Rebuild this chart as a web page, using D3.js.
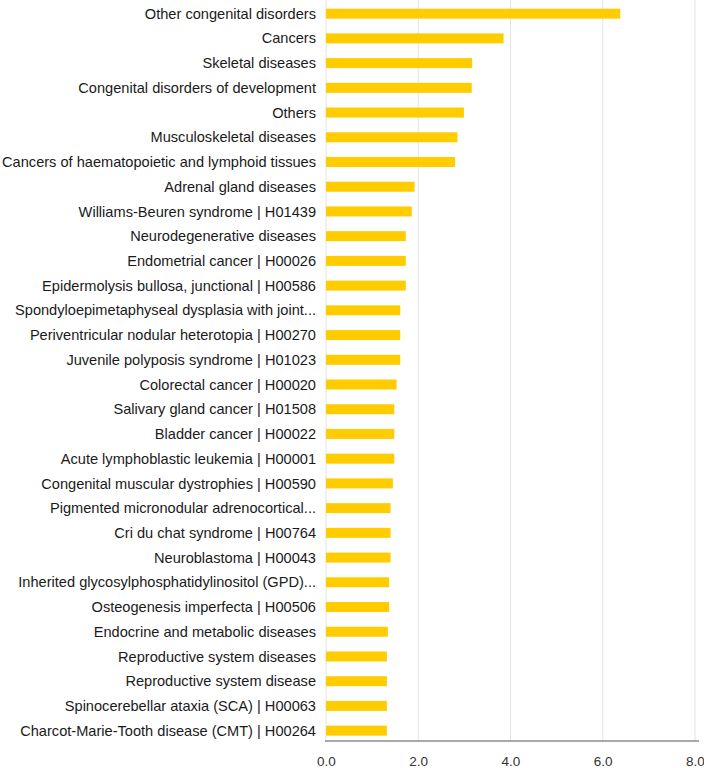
<!DOCTYPE html>
<html>
<head>
<meta charset="utf-8">
<script src="https://cdn.jsdelivr.net/npm/d3@7"></script>
<style>
  body { margin: 0; background: #fff; }
  svg { display: block; }
  text { font-family: "Liberation Sans", Arial, Helvetica, sans-serif; }
</style>
</head>
<body>
<svg id="chart" width="704" height="768"></svg>
<script>
const categories = [
  "Other congenital disorders",
  "Cancers",
  "Skeletal diseases",
  "Congenital disorders of development",
  "Others",
  "Musculoskeletal diseases",
  "Cancers of haematopoietic and lymphoid tissues",
  "Adrenal gland diseases",
  "Williams-Beuren syndrome | H01439",
  "Neurodegenerative diseases",
  "Endometrial cancer | H00026",
  "Epidermolysis bullosa, junctional | H00586",
  "Spondyloepimetaphyseal dysplasia with joint...",
  "Periventricular nodular heterotopia | H00270",
  "Juvenile polyposis syndrome | H01023",
  "Colorectal cancer | H00020",
  "Salivary gland cancer | H01508",
  "Bladder cancer | H00022",
  "Acute lymphoblastic leukemia | H00001",
  "Congenital muscular dystrophies | H00590",
  "Pigmented micronodular adrenocortical...",
  "Cri du chat syndrome | H00764",
  "Neuroblastoma | H00043",
  "Inherited glycosylphosphatidylinositol (GPD)...",
  "Osteogenesis imperfecta | H00506",
  "Endocrine and metabolic diseases",
  "Reproductive system diseases",
  "Reproductive system disease",
  "Spinocerebellar ataxia (SCA) | H00063",
  "Charcot-Marie-Tooth disease (CMT) | H00264"
];
const values = [
  6.38, 3.85, 3.17, 3.16, 2.99, 2.85, 2.80, 1.92, 1.86, 1.73,
  1.73, 1.73, 1.61, 1.61, 1.61, 1.53, 1.48, 1.48, 1.48, 1.45,
  1.40, 1.40, 1.40, 1.37, 1.37, 1.34, 1.32, 1.32, 1.32, 1.32
];
const xTicks = [0, 2, 4, 6, 8];

const svg = d3.select("#chart");
const x = d3.scaleLinear().domain([0, 8]).range([326, 695]);
const y = d3.scaleBand().domain(categories).range([1.3, 743]);
const axisY = 741;
const barH = 10;

// gridlines
svg.append("g").selectAll("line").data(xTicks).join("line")
  .attr("x1", d => x(d)).attr("x2", d => x(d))
  .attr("y1", 0).attr("y2", axisY)
  .attr("stroke", "#e3e3e3").attr("stroke-width", 1);

// bars
svg.append("g").selectAll("rect").data(values).join("rect")
  .attr("x", x(0))
  .attr("y", (d, i) => y(categories[i]) + y.bandwidth() / 2 - barH / 2)
  .attr("width", d => x(d) - x(0))
  .attr("height", barH)
  .attr("fill", "#FFCC00");

// category labels
svg.append("g").selectAll("text").data(categories).join("text")
  .attr("x", 316)
  .attr("y", d => y(d) + y.bandwidth() / 2)
  .attr("dy", "0.35em")
  .attr("text-anchor", "end")
  .attr("font-size", 14.6)
  .attr("fill", "#1a1a1a")
  .text(d => d);

// x axis
const xAxis = d3.axisBottom(x).tickValues(xTicks).tickFormat(d3.format(".1f")).tickSize(0).tickPadding(0);
const gx = svg.append("g").attr("transform", `translate(0,${axisY})`).call(xAxis);
gx.select(".domain").attr("stroke", "#555").attr("d", `M325,0H699`);
gx.selectAll("text")
  .attr("y", 24.5).attr("dy", 0)
  .attr("font-size", 13.5).attr("fill", "#333")
  .attr("font-family", '"Liberation Sans", Arial, Helvetica, sans-serif');
</script>
</body>
</html>
